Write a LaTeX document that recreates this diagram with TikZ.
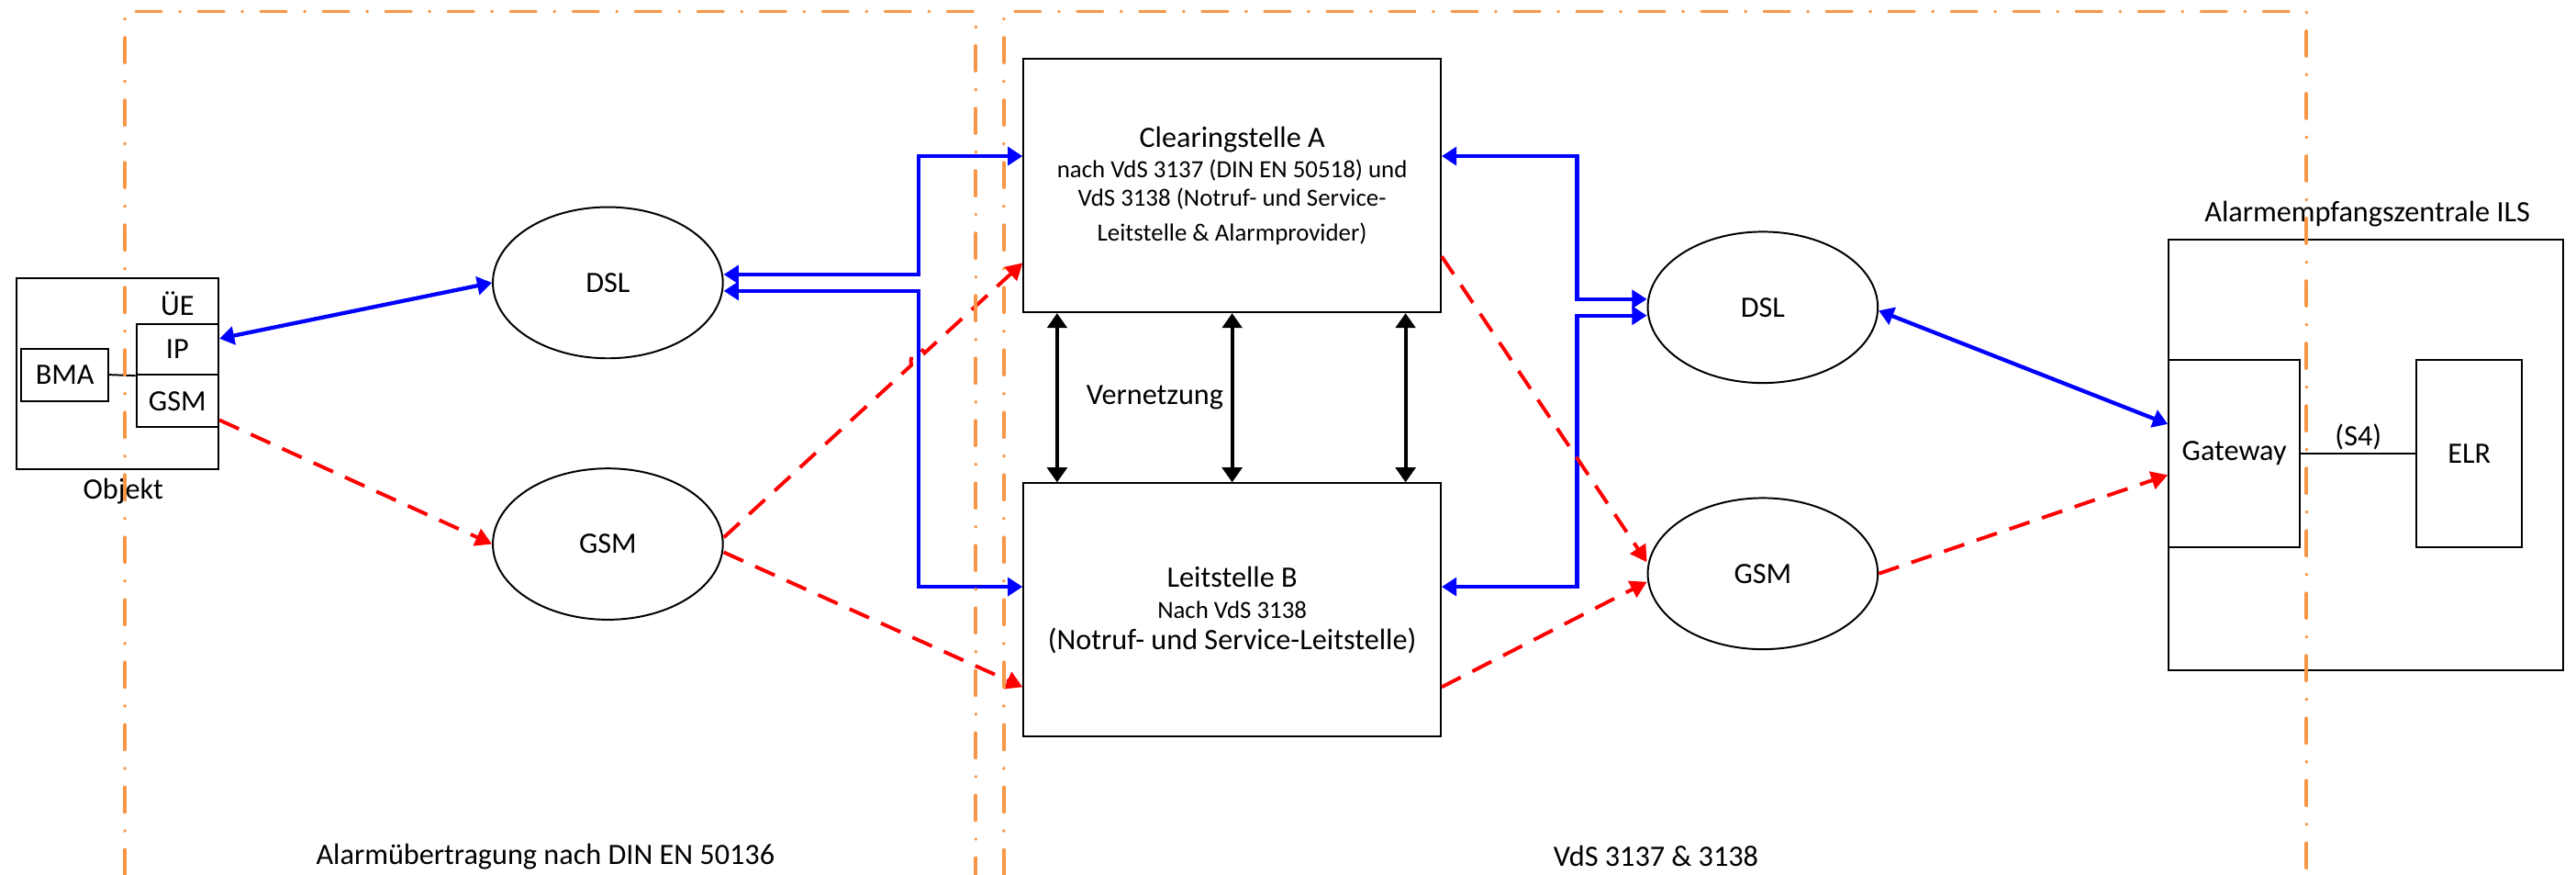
\documentclass[tikz,border=0pt]{standalone}
\usepackage{fontspec}
\setmainfont{Carlito}
\usetikzlibrary{arrows.meta,shapes.geometric,calc}
\definecolor{orng}{RGB}{247,150,70}
\newcommand\smallf{\fontsize{15}{18}\selectfont}
\newcommand\bigf{\fontsize{18}{18}\selectfont}
\begin{document}
\begin{tikzpicture}[x=1pt,y=-1pt,
  font=\fontsize{18}{18}\selectfont,
  boxst/.style={draw, line width=1.1pt, inner sep=0pt, align=center},
  ellst/.style={draw, ellipse, line width=1.1pt, minimum width=140pt, minimum height=92pt, inner sep=0pt},
  txt/.style={inner sep=0pt},
  bluearr/.style={draw=blue, line width=2.4pt, {Triangle[length=9pt,width=11pt]}-{Triangle[length=9pt,width=11pt]}},
  redarr/.style={draw=red, line width=2.2pt, dash pattern=on 13pt off 8pt, -{Triangle[length=10pt,width=11pt]}},
  blkarr/.style={draw=black, line width=2.2pt, {Triangle[length=9pt,width=12pt]}-{Triangle[length=9pt,width=12pt]}},
  orangeln/.style={draw=orng, line width=2.2pt, line cap=round, dash pattern=on 15pt off 11.5pt on 0pt off 11.5pt},
  thin/.style={draw, line width=1.1pt}
]
\useasboundingbox (0,0) rectangle (1568,532);

% Objekt
\node[boxst, minimum width=123pt, minimum height=116pt] (obj) at (71.5,227.5) {};
\node[txt] (objl) at (75,299) {Objekt};
\node[boxst, minimum width=53pt, minimum height=32pt] (bma) at (39.5,228) {BMA};
\node[boxst, minimum width=50pt, minimum height=31pt] (ipb) at (108,212.5) {IP};
\node[boxst, minimum width=50pt, minimum height=32pt] (gsmb) at (108,244) {GSM};
\node[txt] (ue) at (108,185) {ÜE};
\draw[thin] (bma.east) -- (ipb.south west);

% ellipses
\node[ellst] (dslL) at (370,172) {DSL};
\node[ellst] (gsmL) at (370,331) {GSM};
\node[ellst] (dslR) at (1073,187) {DSL};
\node[ellst] (gsmR) at (1073,349) {GSM};

% central boxes
\node[boxst, minimum width=254pt, minimum height=154pt, font=\smallf] (clrA) at (750,113)
  {{\bigf Clearingstelle A}\\[0.5pt]nach VdS 3137 (DIN EN 50518) und\\[-0.6pt]VdS 3138 (Notruf- und Service-\\[3pt]Leitstelle \& Alarmprovider)};
\node[boxst, minimum width=254pt, minimum height=154pt, font=\smallf] (lsB) at (750,371)
  {{\bigf Leitstelle B}\\[1pt]Nach VdS 3138\\[1pt]{\bigf (Notruf- und Service-Leitstelle)}};
\node[txt] (vern) at (703,242) {Vernetzung};

% ILS
\node[boxst, minimum width=240pt, minimum height=262pt] (ils) at (1440,277) {};
\node[txt] (ilsl) at (1441,130) {Alarmempfangszentrale ILS};
\node[boxst, minimum width=80pt, minimum height=114pt] (gw) at (1360,276) {Gateway};
\node[boxst, minimum width=64pt, minimum height=114pt] (elr) at (1503,276) {ELR};
\draw[thin] (gw.east) -- (elr.west) node[midway, above=2pt, inner sep=0pt] (s4) {(S4)};

% bottom labels
\node[txt] (lbl1) at (332,521) {Alarmübertragung nach DIN EN 50136};
\node[txt] (lbl2) at (1008,521) {VdS 3137 \& 3138};

% blue connectors
\coordinate (bl) at (559,0);
\coordinate (br) at (960,0);
\draw[bluearr] ($(ipb.east)+(0,-6.5)$) -- (dslL.west);
\coordinate (pA) at ($(clrA.west)+(0,-18)$);
\coordinate (pB) at ($(lsB.west)+(0,-14)$);
\draw[bluearr] ($(dslL.east)+(0,-5)$) -| (bl |- pA) -- (pA);
\draw[bluearr] ($(dslL.east)+(0,5)$) -| (bl |- pB) -- (pB);
\coordinate (qA) at ($(dslR.west)+(0,-5)$);
\coordinate (qB) at ($(dslR.west)+(0,5)$);
\draw[bluearr] ($(clrA.east)+(0,-18)$) -| (br |- qA) -- (qA);
\draw[bluearr] ($(lsB.east)+(0,-14)$) -| (br |- qB) -- (qB);
\draw[bluearr] ($(dslR.east)+(0,2)$) -- ($(gw.west)+(0,-18)$);

% black Vernetzung
\draw[blkarr] ($(clrA.south west)+(21,0)$) -- ($(lsB.north west)+(21,0)$);
\draw[blkarr] (clrA.south) -- (lsB.north);
\draw[blkarr] ($(clrA.south east)+(-22,0)$) -- ($(lsB.north east)+(-22,0)$);

% red connectors
\draw[redarr] ($(gsmb.south east)+(0,-5)$) -- (gsmL.west);
\coordinate (r1s) at ($(gsmL.east)+(0,-4)$);
\coordinate (r1e) at ($(clrA.west)+(0,47)$);
\coordinate (h1) at ($(r1s)!0.628!(r1e)$);
\coordinate (h2) at ($(r1s)!0.672!(r1e)$);
\draw[redarr] (r1s) -- (h1) .. controls ($(h1)+(-2,-8)$) and ($(h2)+(-2,-5)$) .. (h2) -- (r1e);
\draw[redarr] ($(gsmL.east)+(0,5)$) -- ($(lsB.west)+(0,47)$);
\draw[redarr] ($(clrA.east)+(0,43)$) -- ($(gsmR.west)+(0,-7)$);
\draw[redarr] ($(lsB.east)+(0,47)$) -- ($(gsmR.west)+(0,5)$);
\draw[redarr] ($(gsmR.east)+(0,0)$) -- ($(gw.west)+(0,13)$);

% orange region borders
\draw[orangeln] (76,532) -- (76,7) -- (594,7) -- (594,532);
\draw[orangeln] (611,532) -- (611,7) -- (1404,7) -- (1404,532);
\end{tikzpicture}
\end{document}
